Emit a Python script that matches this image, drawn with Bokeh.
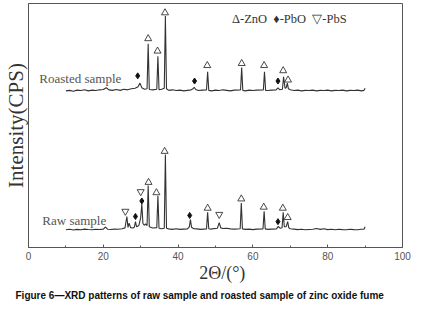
from bokeh.plotting import figure
from bokeh.models import FixedTicker, Label, Title
from bokeh.embed import file_html
from bokeh.resources import INLINE

# ---- data (2theta in degrees, intensity in arbitrary CPS units) ----
roasted_2theta = [10, 11, 12, 13, 14, 15, 16, 17, 18, 19, 20, 20.8, 21.5, 22.5, 23.5, 24.5, 25.5, 26.5,
                  27.5, 28.5, 29.3, 29.8, 30.3, 31.0, 31.7, 32.0, 32.3, 33.2, 34.3, 34.6, 34.9, 35.6,
                  36.3, 36.6, 36.9, 37.5, 38.5, 39.5, 40.5, 41.5, 42.5, 43.5, 44.0, 44.3, 44.7, 45.5,
                  46.5, 47.6, 47.9, 48.2, 49, 50, 51, 52, 53, 54, 55, 56.7, 57.0, 57.3, 58, 59, 60,
                  61, 62.8, 63.1, 63.4, 64, 65, 66.2, 66.7, 67.2, 67.9, 68.2, 68.6, 68.9, 69.2, 69.5,
                  70, 71, 72, 73, 74, 75, 76, 77, 78, 79, 80, 81, 82, 83, 84, 85, 86, 87, 88, 89,
                  89.7, 90]
roasted_cps = [1515, 1520, 1512, 1522, 1518, 1525, 1515, 1522, 1518, 1525, 1528, 1545, 1525, 1520, 1528,
               1520, 1530, 1525, 1535, 1540, 1555, 1590, 1545, 1530, 1535, 1970, 1528, 1525, 1530, 1850,
               1525, 1530, 1540, 2240, 1535, 1520, 1525, 1518, 1522, 1515, 1520, 1525, 1535, 1550,
               1528, 1518, 1522, 1525, 1700, 1520, 1515, 1522, 1518, 1525, 1520, 1515, 1522, 1525,
               1740, 1520, 1515, 1522, 1518, 1522, 1525, 1700, 1520, 1518, 1522, 1525, 1545, 1525,
               1530, 1650, 1540, 1545, 1590, 1535, 1525, 1518, 1522, 1515, 1520, 1518, 1522, 1515,
               1520, 1518, 1522, 1515, 1520, 1518, 1522, 1515, 1520, 1518, 1522, 1515, 1520, 1540]

raw_2theta = [10, 11, 12, 13, 14, 15, 16, 17, 18, 19, 20, 20.6, 21.2, 22, 23, 24, 25, 25.8, 26.3, 26.6,
              26.9, 27.3, 27.9, 28.3, 28.6, 28.9, 29.5, 30.0, 30.3, 30.6, 31.0, 31.3, 31.7, 32.0, 32.3,
              33.2, 34.3, 34.6, 34.9, 35.6, 36.3, 36.6, 36.9, 37.5, 38.5, 39.5, 40.5, 41.5, 42.5, 43.0,
              43.3, 43.6, 44.2, 45, 46, 47.6, 47.9, 48.2, 48.8, 49.6, 50.5, 51.0, 51.4, 52, 53, 54, 55,
              56.6, 56.9, 57.2, 58, 59, 60, 61, 62.7, 63.0, 63.3, 64, 65, 66.3, 66.8, 67.3, 67.8, 68.1,
              68.4, 68.9, 69.3, 69.6, 70, 71, 72, 73, 74, 75, 76, 77, 78, 79, 80, 81, 82, 83, 84, 85,
              86, 87, 88, 89, 89.7, 90]
raw_cps = [172, 176, 170, 175, 172, 178, 174, 172, 176, 174, 178, 198, 176, 174, 178, 176, 182, 190,
           300, 195, 235, 192, 188, 196, 250, 200, 212, 290, 420, 232, 215, 228, 212, 600, 200, 188,
           192, 500, 186, 182, 186, 900, 186, 180, 175, 182, 175, 178, 180, 200, 270, 195, 182, 180,
           175, 180, 340, 182, 178, 183, 186, 240, 190, 184, 186, 180, 178, 182, 430, 180, 175, 178,
           173, 178, 180, 350, 180, 175, 178, 180, 205, 186, 192, 340, 200, 202, 250, 190, 182, 178,
           173, 176, 172, 174, 176, 184, 175, 181, 173, 176, 172, 176, 173, 172, 176, 173, 172, 176,
           176, 200]

# phase marks (position of symbol above each identified peak)
zno_roasted_2theta = [32.0, 34.5, 36.5, 47.8, 57.0, 63.0, 68.1, 69.4]
zno_roasted_cps = [2020, 1900, 2270, 1760, 1780, 1760, 1710, 1620]
pbo_roasted_2theta = [29.2, 44.4, 66.7]
pbo_roasted_cps = [1660, 1610, 1610]

zno_raw_2theta = [32.1, 34.2, 36.4, 47.9, 56.9, 62.9, 68.0, 69.3]
zno_raw_cps = [630, 530, 930, 380, 470, 390, 380, 290]
pbo_raw_2theta = [28.6, 30.3, 43.1, 66.7]
pbo_raw_cps = [300, 450, 310, 250]
pbs_raw_2theta = [25.9, 30.0, 51.0]
pbs_raw_cps = [350, 540, 320]

x_ticks = [0, 20, 40, 60, 80, 100]
x_minor_ticks = [10, 30, 50, 70, 90]

SERIF = "Liberation Serif"
INK = "#333333"
NB = "\u00a0"

p = figure(width=411, height=302, x_range=(0, 100), y_range=(0, 2360),
           output_backend="svg", toolbar_location=None,
           min_border_left=0, min_border_right=9, min_border_top=3, min_border_bottom=52)
p.grid.visible = False
p.outline_line_color = "#555555"
p.outline_line_width = 1
p.background_fill_color = "white"

# x axis
p.xaxis.ticker = FixedTicker(ticks=x_ticks, minor_ticks=x_minor_ticks)
p.xaxis.major_tick_in = 3
p.xaxis.major_tick_out = 0
p.xaxis.minor_tick_in = 2
p.xaxis.minor_tick_out = 0
p.xaxis.axis_line_color = "#555555"
p.xaxis.major_tick_line_color = "#555555"
p.xaxis.minor_tick_line_color = "#555555"
p.xaxis.major_label_text_font = "Liberation Sans"
p.xaxis.major_label_text_font_size = "10px"
p.xaxis.major_label_text_color = "#555555"
p.xaxis.major_label_standoff = 4
p.xaxis.axis_label = NB * 3 + "2Θ/(°)"
p.xaxis.axis_label_text_font = SERIF
p.xaxis.axis_label_text_font_style = "normal"
p.xaxis.axis_label_text_font_size = "18px"
p.xaxis.axis_label_text_color = INK
p.xaxis.axis_label_standoff = 0

# y axis: label only
p.yaxis.ticker = FixedTicker(ticks=[])
p.yaxis.axis_line_color = "#555555"
p.yaxis.axis_label = "Intensity(CPS)"
p.yaxis.axis_label_text_font = SERIF
p.yaxis.axis_label_text_font_style = "normal"
p.yaxis.axis_label_text_font_size = "21px"
p.yaxis.axis_label_text_color = INK
p.yaxis.axis_label_standoff = 1

# traces
p.line(roasted_2theta, roasted_cps, line_color=INK, line_width=1.1)
p.line(raw_2theta, raw_cps, line_color=INK, line_width=1.1)

# phase symbols
p.scatter(zno_roasted_2theta, zno_roasted_cps, marker="triangle", size=7,
          fill_color="white", line_color=INK, line_width=0.9)
p.scatter(zno_raw_2theta, zno_raw_cps, marker="triangle", size=7,
          fill_color="white", line_color=INK, line_width=0.9)
p.scatter(pbo_roasted_2theta, pbo_roasted_cps, marker="diamond", size=6,
          fill_color="#111111", line_color="#111111")
p.scatter(pbo_raw_2theta, pbo_raw_cps, marker="diamond", size=6,
          fill_color="#111111", line_color="#111111")
p.scatter(pbs_raw_2theta, pbs_raw_cps, marker="inverted_triangle", size=7,
          fill_color="white", line_color=INK, line_width=0.9)

# text labels inside the frame
p.add_layout(Label(x=2.9, y=1630, text="Roasted sample", text_font=SERIF,
                   text_font_size="13px", text_color="#555555", text_baseline="middle"))
p.add_layout(Label(x=3.7, y=260, text="Raw sample", text_font=SERIF,
                   text_font_size="13px", text_color="#555555", text_baseline="middle"))
p.add_layout(Label(x=54.4, y=2210, text="Δ-ZnO" + NB * 2 + "♦-PbO" + NB * 2 + "▽-PbS",
                   text_font=SERIF, text_font_size="12.5px", text_color=INK,
                   text_baseline="middle"))

# caption
p.add_layout(Title(text="Figure 6\u2014XRD patterns of raw sample and roasted sample of zinc oxide fume",
                   text_font="Liberation Sans", text_font_style="bold",
                   text_font_size="10px", text_color="#111111", align="left",
                   offset=-13, standoff=4), "below")

open("out.html", "w").write(file_html(p, INLINE))
